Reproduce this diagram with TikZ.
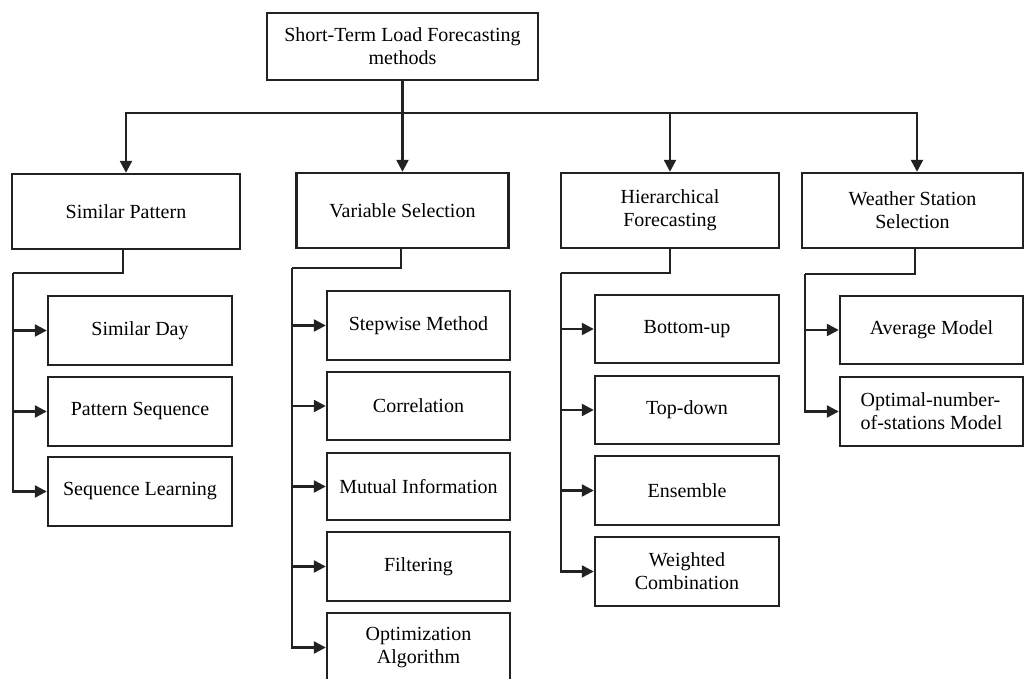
\documentclass[tikz,border=0pt]{standalone}
\usepackage{fontspec}
\setmainfont{Liberation Serif}
\usetikzlibrary{arrows.meta}
\definecolor{ink}{HTML}{222222}
\begin{document}
\begin{tikzpicture}[x=0.5pt,y=-0.5pt,
  box/.style={draw=ink, line width=1.2pt, inner sep=0pt, align=center,
              font=\fontsize{10}{11.5}\selectfont},
  wh/.style 2 args={minimum width=#1*0.5pt, minimum height=#2*0.5pt},
  link/.style={draw=ink, line width=1.2pt},
  arr/.style={link, -{Triangle[length=6pt,width=6pt]}}]
\clip (0,0) rectangle (1025,679);

% root
\node[box, wh={271}{67}] (top) at (402.5,46.5) {Short-Term Load Forecasting\\methods};

% first level
\node[box, wh={228}{75}] (sp) at (126,211.5) {Similar Pattern};
\node[box, wh={212}{75}] (vs) at (402.5,210.5) {Variable Selection};
\node[box, wh={218}{75}] (hf) at (670,210.5) {Hierarchical\\Forecasting};
\node[box, wh={221}{75}] (ws) at (912.5,210.5) {Weather Station\\Selection};

% similar pattern methods
\node[box, wh={184}{69}] (sd) at (140,330.5) {Similar Day};
\node[box, wh={184}{69}] (ps) at (140,411.5) {Pattern Sequence};
\node[box, wh={184}{69}] (sl) at (140,491.5) {Sequence Learning};

% variable selection methods
\node[box, wh={183}{69}] (sw) at (418.5,325.5) {Stepwise Method};
\node[box, wh={183}{68}] (co) at (418.5,406) {Correlation};
\node[box, wh={183}{67}] (mi) at (418.5,486.5) {Mutual Information};
\node[box, wh={183}{69}] (fi) at (418.5,566.5) {Filtering};
\node[box, wh={183}{69}] (oa) at (418.5,647.5) {Optimization\\Algorithm};

% hierarchical forecasting methods
\node[box, wh={184}{68}] (bu) at (687,329) {Bottom-up};
\node[box, wh={184}{68}] (td) at (687,410) {Top-down};
\node[box, wh={184}{69}] (en) at (687,490.5) {Ensemble};
\node[box, wh={184}{69}] (wc) at (687,571.5) {Weighted\\Combination};

% weather station selection methods
\node[box, wh={183}{68}] (am) at (931.5,330) {Average Model};
\node[box, wh={183}{69}, align=left] (om) at (931.5,411.5) {Optimal-number-\\of-stations Model};

% root to first level
\coordinate (bus) at (402.5,113);
\draw[arr] (top.south) -- (vs.north);
\draw[arr] (bus) -| (sp.north);
\draw[arr] (bus) -| (hf.north);
\draw[arr] (bus) -| ([xshift=2.25pt]ws.north);

% first level to methods
\coordinate (spj) at (13,273);
\coordinate (vsj) at (292,268);
\coordinate (hfj) at (561,273);
\coordinate (wsj) at (805,274);
\draw[link] ([xshift=-1.5pt]sp.south) |- (spj);
\draw[link] ([xshift=-0.75pt]vs.south) |- (vsj);
\draw[link] (hf.south) |- (hfj);
\draw[link] ([xshift=1.25pt]ws.south) |- (wsj);

\foreach \n in {sd,ps,sl} \draw[arr] (spj) |- (\n.west);
\foreach \n in {sw,co,mi,fi,oa} \draw[arr] (vsj) |- (\n.west);
\foreach \n in {bu,td,en,wc} \draw[arr] (hfj) |- (\n.west);
\foreach \n in {am,om} \draw[arr] (wsj) |- (\n.west);
\end{tikzpicture}
\end{document}
